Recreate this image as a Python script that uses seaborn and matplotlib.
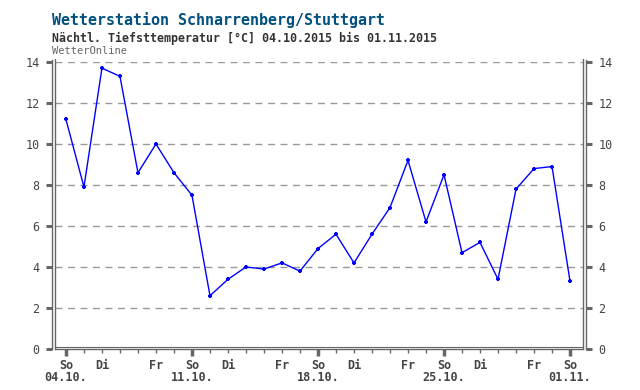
import numpy as np
import pandas as pd
import matplotlib
matplotlib.use("Agg")
import matplotlib.pyplot as plt
import matplotlib.dates as mdates
from matplotlib.lines import Line2D
from matplotlib.transforms import ScaledTranslation
import seaborn as sns

# data: nightly minimum temperature, Stuttgart-Schnarrenberg
dates = pd.date_range("2015-10-04", "2015-11-01", freq="D")
tmin = [11.2, 7.9, 13.7, 13.3, 8.6, 10.0, 8.6, 7.5, 2.6, 3.4,
        4.0, 3.9, 4.2, 3.8, 4.9, 5.6, 4.2, 5.6, 6.9, 9.2,
        6.2, 8.5, 4.7, 5.2, 3.4, 7.8, 8.8, 8.9, 3.3]
yticks = [0, 2, 4, 6, 8, 10, 12, 14]
day_names = {6: "So", 1: "Di", 4: "Fr"}

df = pd.DataFrame({"date": dates, "tmin": tmin})

sns.set_style("white")
plt.rcParams["font.family"] = ["DejaVu Sans Mono", "DejaVu Sans"]

fig = plt.figure(figsize=(6.4, 3.9), dpi=100)
ax = fig.add_axes([55 / 640, 1 - 349 / 390, 528 / 640, 287 / 390])

sns.lineplot(data=df, x="date", y="tmin", ax=ax, color="#0000ff",
             linewidth=1, marker="+", markersize=3.5, markeredgewidth=1.6,
             markeredgecolor="#0000ff")

ax.set_ylim(0, 14)
ax.set_xlim(dates[0] - pd.Timedelta(hours=14.6), dates[-1] + pd.Timedelta(hours=17.3))

# horizontal dashed grid
for y in yticks[1:]:
    ax.axhline(y, color="#999999", linewidth=1, linestyle=(0, (5, 4)), zorder=0)

# ticks
gray = "#666666"
ax.set_yticks(yticks)
ax.tick_params(axis="y", which="major", length=4.5, width=2.2, color=gray,
               labelsize=8.5, labelcolor="#444444", left=True, right=True,
               labelleft=True, labelright=True, pad=4.5)
for t in ax.yaxis.get_major_ticks():
    t.label1.set_fontweight("bold")
    t.label2.set_fontweight("bold")

ax.xaxis.set_major_locator(mdates.DayLocator())
labels = []
for d in dates:
    wd = d.weekday()
    if wd == 6:
        labels.append(f"{day_names[wd]}\n{d:%d.%m.}")
    elif wd in day_names:
        labels.append(day_names[wd])
    else:
        labels.append("")
ax.set_xticks(dates)
ax.set_xticklabels(labels, fontsize=8.5, color="#444444", fontweight="bold",
                   linespacing=0.95)
ax.tick_params(axis="x", bottom=True, length=3, width=1, color=gray, pad=4)
for d, t in zip(dates, ax.xaxis.get_major_ticks()):
    if d.weekday() == 6:
        t.tick1line.set_markersize(5)
        t.tick1line.set_markeredgewidth(2.5)

ax.set_xlabel("")
ax.set_ylabel("")

# frame: double lines left/right/bottom, no top
for s in ["left", "right", "bottom"]:
    ax.spines[s].set_color(gray)
    ax.spines[s].set_linewidth(1)
ax.spines["top"].set_visible(False)
ax.spines["left"].set_position(("outward", 2))
ax.spines["right"].set_position(("outward", 2))
for x in (0, 1):
    ax.add_line(Line2D([x, x], [0, 1.01], transform=ax.transAxes,
                       color=gray, linewidth=1, clip_on=False))
ax.add_line(Line2D([0, 1], [0, 0], transform=ax.transAxes + ScaledTranslation(0, 2 / 100, fig.dpi_scale_trans),
                   color=gray, linewidth=0.8, clip_on=False))
ax.spines["left"].set_bounds(0, 14.1)
ax.spines["right"].set_bounds(0, 14.1)

fig.text(52 / 640, 1 - 20 / 390, "Wetterstation Schnarrenberg/Stuttgart",
         color="#005080", fontsize=10.8, fontweight="bold", va="center")
fig.text(52 / 640, 1 - 38 / 390, "Nächtl. Tiefsttemperatur [°C] 04.10.2015 bis 01.11.2015",
         color="#333333", fontsize=8.4, fontweight="bold", va="center")
fig.text(52 / 640, 1 - 51 / 390, "WetterOnline", color="#666666", fontsize=7.5,
         va="center")

fig.savefig("out.png", dpi=100)
